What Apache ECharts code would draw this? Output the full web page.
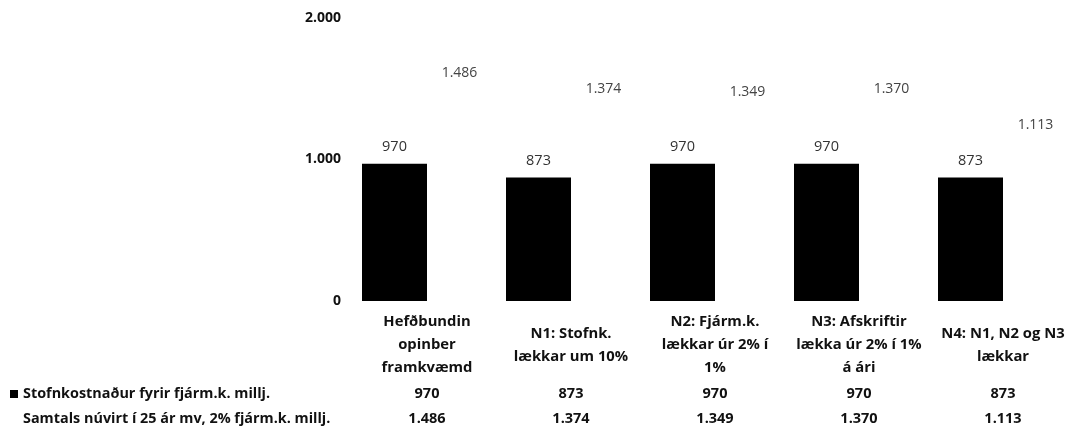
<!DOCTYPE html>
<html>
<head>
<meta charset="utf-8">
<script src="https://cdn.jsdelivr.net/npm/echarts@6/dist/echarts.min.js"></script>
<style>
  html, body { margin: 0; padding: 0; background: #fff; }
  #chart { width: 1075px; height: 428px; }
</style>
</head>
<body>
<div id="chart"></div>
<script>
// Scenario names (line breaks as laid out under each column)
const categories = [
  'Hefðbundin\nopinber\nframkvæmd',
  'N1: Stofnk.\nlækkar um 10%',
  'N2: Fjárm.k.\nlækkar úr 2% í\n1%',
  'N3: Afskriftir\nlækka úr 2% í 1%\ná ári',
  'N4: N1, N2 og N3\nlækkar'
];
// Capital cost, million ISK
const stofnkostnadur = [970, 873, 970, 970, 873];
// Present value over 25 years at 2% financing cost, million ISK
const samtalsNuvirt = [1486, 1374, 1349, 1370, 1113];
const seriesNames = [
  'Stofnkostnaður fyrir fjárm.k. millj.',
  'Samtals núvirt í 25 ár mv, 2% fjárm.k. millj.'
];
const yMin = 0, yMax = 2000, yStep = 1000;

const FONT = '"Open Sans", "Liberation Sans", sans-serif';

// Icelandic thousands separator
function fmt(v) {
  return String(v).replace(/\B(?=(\d{3})+(?!\d))/g, '.');
}

const hiddenAxisParts = {
  axisLine: { show: false },
  axisTick: { show: false },
  splitLine: { show: false }
};

const chart = echarts.init(document.getElementById('chart'), null, { renderer: 'canvas' });

chart.setOption({
  animation: false,
  backgroundColor: '#fff',
  grid: { left: 355, right: -3, top: 18, bottom: 127, containLabel: false },
  xAxis: [
    Object.assign({
      type: 'category',
      data: categories,
      position: 'bottom',
      axisLabel: {
        interval: 0, margin: 44, verticalAlign: 'middle', align: 'center',
        fontFamily: FONT, fontSize: 14.8, fontWeight: 'bold', lineHeight: 23, color: '#111'
      }
    }, hiddenAxisParts),
    // data table row 1
    Object.assign({
      type: 'category',
      data: categories,
      position: 'bottom',
      axisLabel: {
        interval: 0, margin: 93, verticalAlign: 'middle', align: 'center',
        fontFamily: FONT, fontSize: 14.5, fontWeight: 'bold', color: '#111',
        formatter: function (v, i) { return fmt(stofnkostnadur[i]); }
      }
    }, hiddenAxisParts),
    // data table row 2
    Object.assign({
      type: 'category',
      data: categories,
      position: 'bottom',
      axisLabel: {
        interval: 0, margin: 118, verticalAlign: 'middle', align: 'center',
        fontFamily: FONT, fontSize: 14.5, fontWeight: 'bold', color: '#111',
        formatter: function (v, i) { return fmt(samtalsNuvirt[i]); }
      }
    }, hiddenAxisParts)
  ],
  yAxis: Object.assign({
    type: 'value',
    min: yMin, max: yMax, interval: yStep,
    axisLabel: {
      margin: 14, fontFamily: FONT, fontSize: 14, fontWeight: 'bold', color: '#111',
      formatter: function (v) { return fmt(v); }
    }
  }, hiddenAxisParts),
  series: [
    {
      name: seriesNames[0],
      type: 'bar',
      xAxisIndex: 0,
      data: stofnkostnadur,
      barWidth: 65,
      barGap: '0%',
      silent: true,
      itemStyle: { color: '#000' },
      label: {
        show: true, position: 'top', distance: 9,
        fontFamily: FONT, fontSize: 14.5, color: '#333',
        formatter: function (p) { return fmt(p.value); }
      }
    },
    {
      name: seriesNames[1],
      type: 'bar',
      xAxisIndex: 0,
      data: samtalsNuvirt,
      barWidth: 65,
      silent: true,
      itemStyle: { color: 'rgba(0,0,0,0)' },
      label: {
        show: true, position: 'top', distance: 11,
        fontFamily: FONT, fontSize: 14, color: '#444',
        formatter: function (p) { return fmt(p.value); }
      }
    }
  ],
  graphic: [
    { type: 'rect', shape: { x: 10, y: 390, width: 8, height: 8 }, style: { fill: '#000' } },
    {
      type: 'text', x: 23, y: 394,
      style: { text: seriesNames[0], font: 'bold 14.4px ' + FONT, fill: '#111', verticalAlign: 'middle' }
    },
    {
      type: 'text', x: 23, y: 419,
      style: { text: seriesNames[1], font: 'bold 14.4px ' + FONT, fill: '#111', verticalAlign: 'middle' }
    }
  ]
});
</script>
</body>
</html>
